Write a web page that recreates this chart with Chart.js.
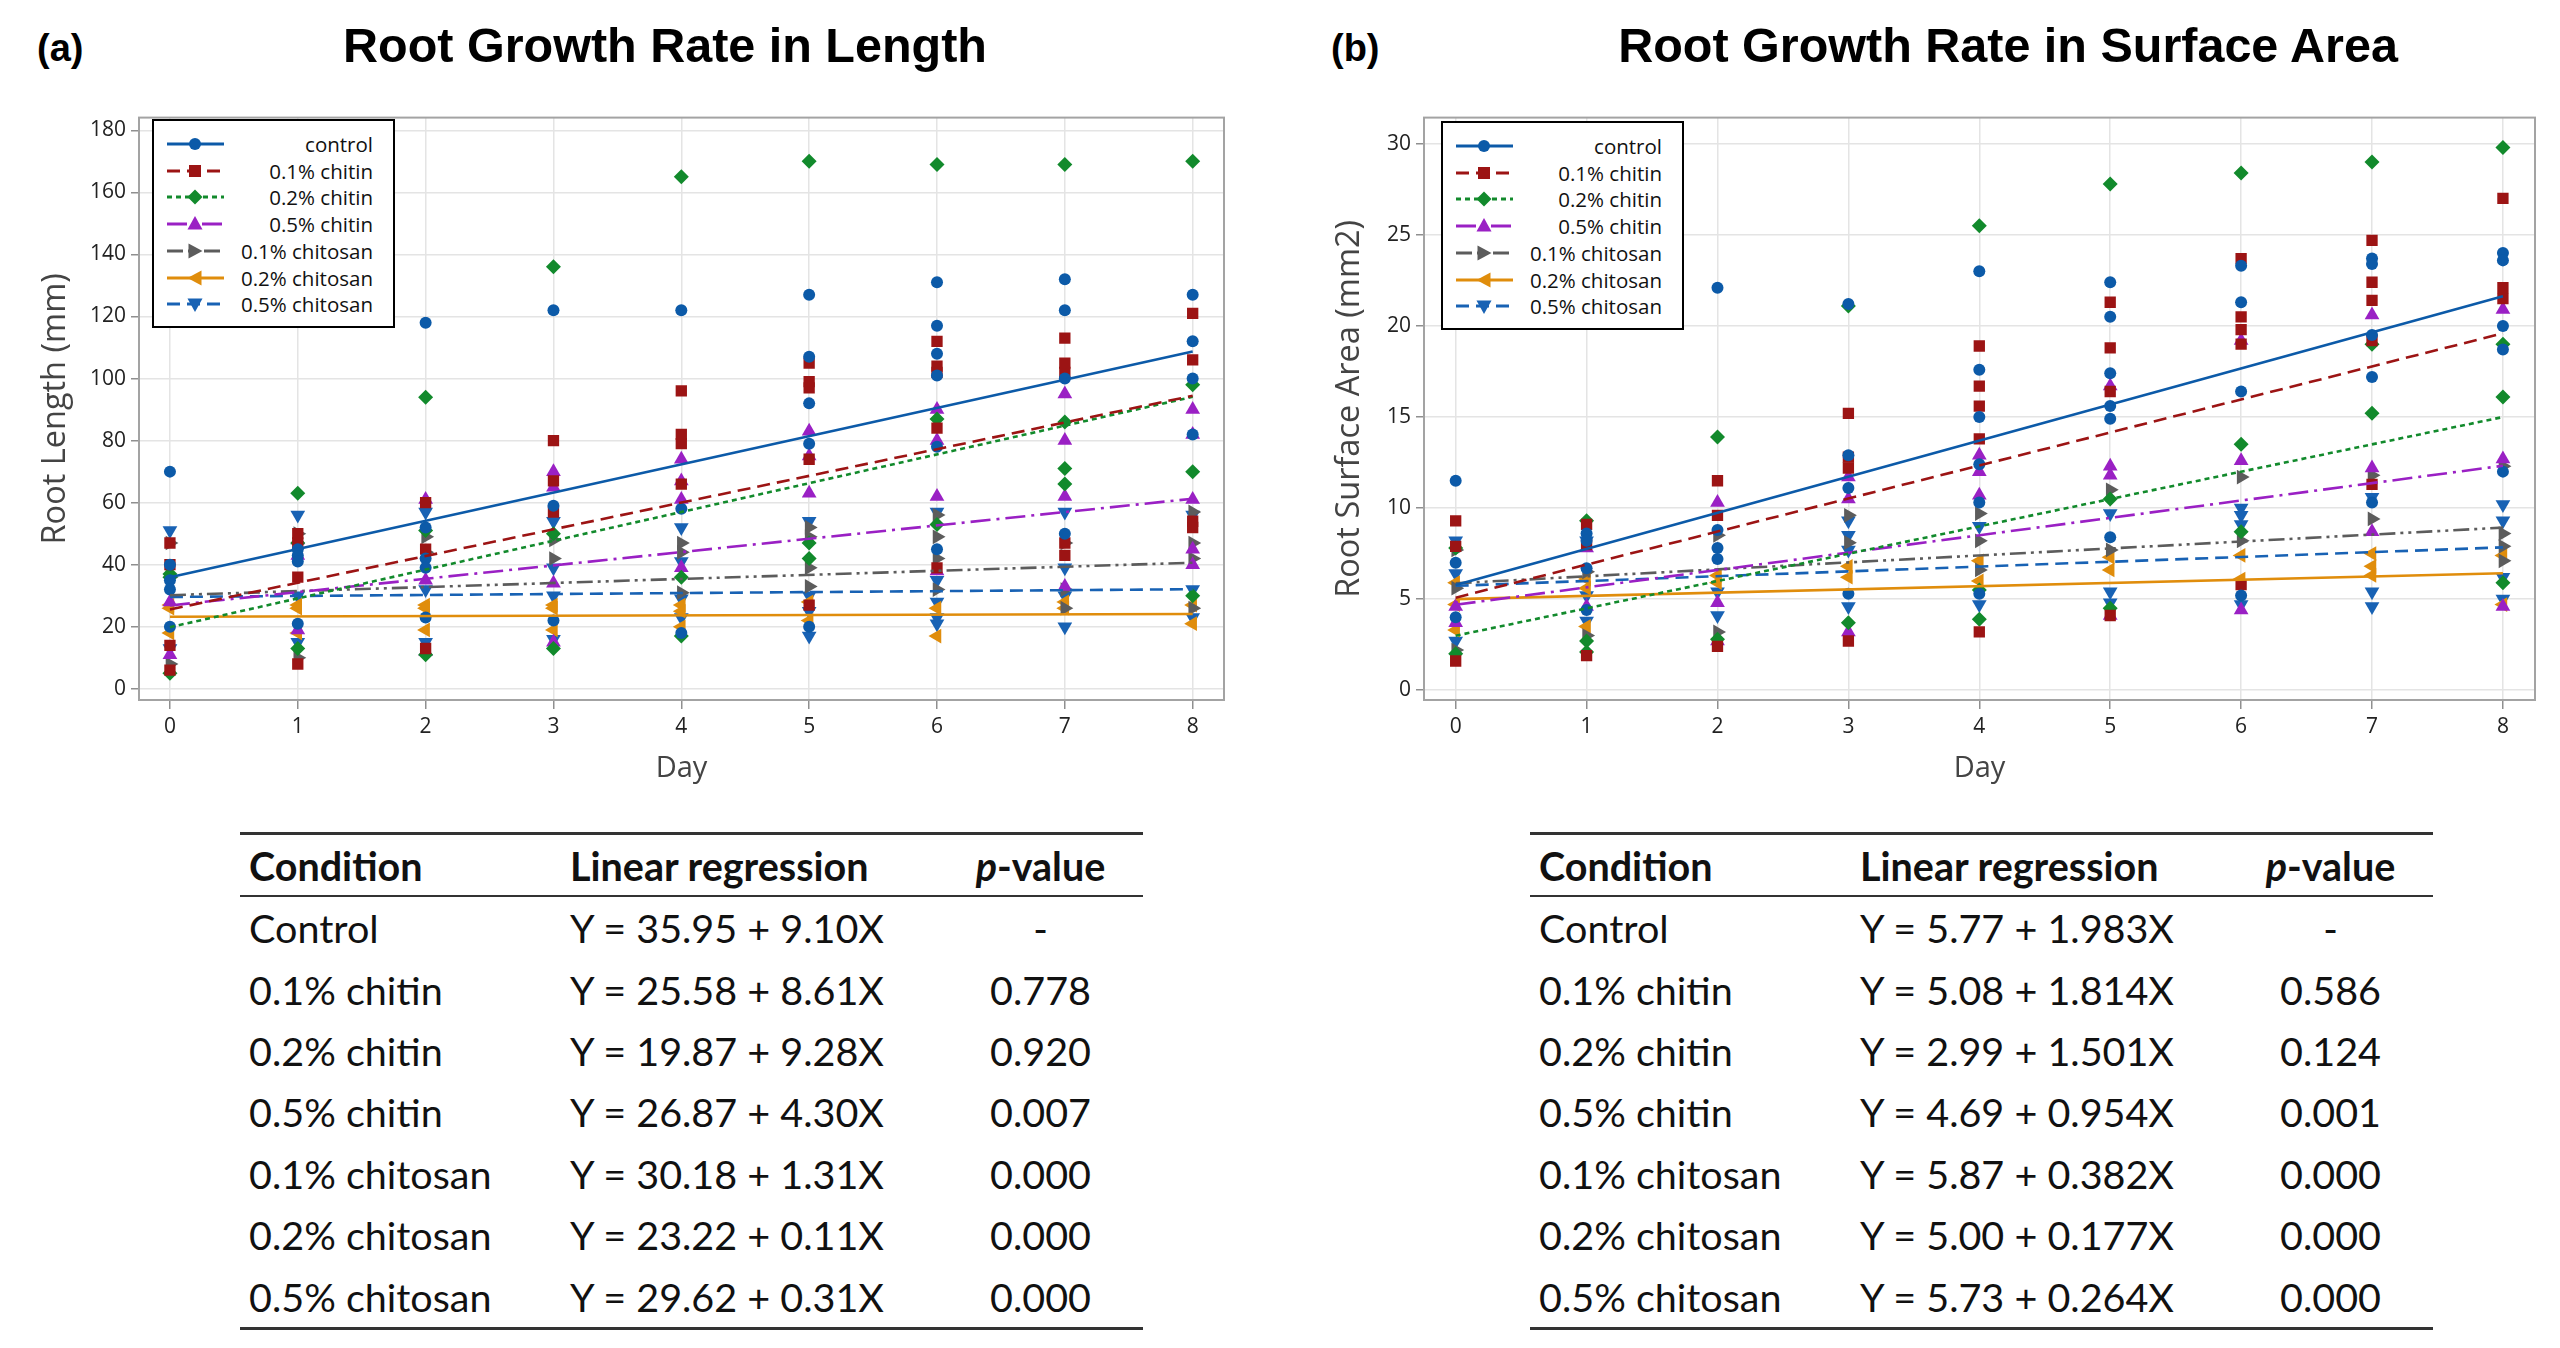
<!DOCTYPE html>
<html>
<head>
<meta charset="utf-8">
<script src="https://cdn.jsdelivr.net/npm/chart.js@4.4.1/dist/chart.umd.min.js"></script>
<style>
    body { margin: 0; width: 2560px; height: 1348px; background: #fff; position: relative; overflow: hidden; }
    .label { position: absolute; font: bold 38px 'Liberation Sans', Arial, sans-serif; line-height: 38px; color: #000; }
    .title { position: absolute; font: bold 48.5px 'Liberation Sans', Arial, sans-serif; line-height: 48px; color: #000; white-space: nowrap; transform: translateX(-50%); }
    canvas { position: absolute; top: 100px; }
    .legend { position: absolute; width: 239px; height: 205px; border: 2px solid #000; background: #fff; }
    .legend .row { position: absolute; left: 12px; right: 20px; height: 24px; display: flex; align-items: center; }
    .legend .row span { flex: 1; text-align: right; font: 20.5px 'Open Sans', sans-serif; color: #111; white-space: nowrap; }
    table.reg { position: absolute; top: 832px; width: 903px; border-collapse: collapse; table-layout: fixed; font: 39.5px Lato, sans-serif; color: #111; }
    table.reg th { font-weight: bold; height: 60px; text-align: left; padding: 0 0 0 9px; border-top: 3px solid #333; border-bottom: 2.5px solid #333; }
    table.reg td { height: 61.4px; padding: 0 0 0 9px; white-space: nowrap; }
    table.reg tr:last-child td { border-bottom: 3px solid #333; }
    table.reg .p { text-align: center; padding: 0 22px 0 0; }
</style>
</head>
<body>
<div class="label" style="left:37px;top:29px">(a)</div>
<div class="title" style="left:665px;top:21px">Root Growth Rate in Length</div>
<canvas id="lenChart" width="1240" height="700" style="left:0"></canvas>
<div class="legend" id="lenLegend" style="left:152px;top:119px"></div>
<table class="reg" id="lenTable" style="left:240px"></table>

<div class="label" style="left:1331px;top:29px">(b)</div>
<div class="title" style="left:2008px;top:21px">Root Growth Rate in Surface Area</div>
<canvas id="areaChart" width="1280" height="700" style="left:1280px"></canvas>
<div class="legend" id="areaLegend" style="left:1441px;top:121px"></div>
<table class="reg" id="areaTable" style="left:1530px"></table>

<script>
const days = [0, 1, 2, 3, 4, 5, 6, 7, 8];
const seriesNames = ['control', '0.1% chitin', '0.2% chitin', '0.5% chitin', '0.1% chitosan', '0.2% chitosan', '0.5% chitosan'];
const tableNames = ['Control', '0.1% chitin', '0.2% chitin', '0.5% chitin', '0.1% chitosan', '0.2% chitosan', '0.5% chitosan'];
const lenTicks = [0, 20, 40, 60, 80, 100, 120, 140, 160, 180];
const areaTicks = [0, 5, 10, 15, 20, 25, 30];

// root length (mm), one list per day
const lenControl = [[70, 40, 35, 32, 20], [45, 43, 41, 21], [118, 52, 42, 39, 23], [122, 59, 22], [122, 58, 18], [127, 107, 92, 79, 20], [131, 117, 108, 101, 78, 45], [132, 122, 100, 50], [127, 112, 100, 82]];
const lenChitin01 = [[47, 40, 14, 6], [50, 47, 36, 8], [60, 45, 13], [80, 67, 57], [96, 82, 79, 66], [105, 99, 97, 74, 27], [112, 104, 102, 84, 39], [113, 105, 102, 47, 43], [121, 106, 54, 52]];
const lenChitin02 = [[37, 36, 5], [63, 47, 13], [94, 51, 11], [136, 50, 13], [165, 36, 17], [170, 47, 42], [169, 87, 53], [169, 86, 71, 66], [170, 98, 70, 30]];
const lenChitin05 = [[28, 11], [48, 43, 19], [61, 35, 12], [70, 65, 34, 15], [74, 67, 61, 39], [83, 75, 63], [90, 80, 62, 38], [95, 80, 62, 33], [90, 82, 61, 45, 40]];
const lenChitosan01 = [[47, 36, 8], [50, 10], [49, 44], [48, 42], [47, 44, 31], [52, 49, 39, 33], [56, 49, 42, 32], [47, 32, 26], [57, 47, 42, 26]];
const lenChitosan02 = [[27, 26, 18], [27, 26, 18], [27, 26, 19], [27, 26, 19], [27, 25, 20], [28, 22], [26, 17], [28, 26], [27, 21]];
const lenChitosan05 = [[51, 13], [56, 30, 15], [57, 32, 15], [54, 39, 30, 16], [52, 41, 29, 23], [54, 30, 25, 17], [57, 35, 28, 23, 21], [57, 39, 30, 20], [56, 32, 23]];

// root surface area (mm2), one list per day
const areaControl = [[11.5, 7.0, 4.0], [8.6, 8.2, 6.7, 4.4], [22.1, 8.8, 7.8, 7.2], [21.2, 12.9, 11.1, 5.3], [23.0, 17.6, 15.0, 12.4, 10.3, 5.3], [22.4, 20.5, 17.4, 15.6, 14.9, 8.4], [23.3, 21.3, 16.4, 5.2], [23.7, 23.4, 19.5, 17.2, 10.3], [24.0, 23.6, 20.0, 18.7, 12.0]];
const areaChitin01 = [[9.3, 7.9, 1.6], [9.1, 8.0, 1.9], [11.5, 9.6, 2.4], [15.2, 12.8, 12.2, 2.7], [18.9, 16.7, 15.6, 13.8, 3.2], [21.3, 18.8, 16.4, 4.1], [23.7, 20.5, 19.8, 19.0, 5.8], [24.7, 22.4, 21.4, 19.2, 11.3], [27.0, 22.1, 21.5]];
const areaChitin02 = [[7.8, 2.0], [9.3, 2.7, 2.1], [13.9, 2.8], [21.1, 3.7], [25.5, 5.5, 3.9], [27.8, 10.5, 4.5], [28.4, 13.5, 8.7], [29.0, 19.0, 15.2], [29.8, 19.0, 16.1, 5.9]];
const areaChitin05 = [[4.6, 3.7], [7.8, 4.6], [10.3, 4.8, 2.7], [11.7, 10.5, 3.2], [12.9, 12.0, 10.7], [16.7, 12.3, 11.8, 4.1], [19.2, 12.6, 4.4], [20.6, 12.2, 8.7], [20.9, 12.7, 4.6]];
const areaChitosan01 = [[7.7, 5.6, 2.2], [6.5, 3.0], [8.5, 3.2], [9.6, 8.1], [9.7, 8.2, 6.6], [11.0, 7.7], [11.7, 8.2], [11.8, 9.4], [12.3, 8.6, 7.9, 7.1]];
const areaChitosan02 = [[5.9, 4.7, 3.3], [6.1, 5.6, 3.5], [6.3, 5.9], [6.8, 6.2], [7.1, 6.0], [7.3, 6.6], [7.4, 6.1], [7.5, 6.8, 6.3], [7.4, 4.7]];
const areaChitosan05 = [[8.2, 6.4, 2.7], [8.2, 5.2, 3.8], [5.4, 4.1], [9.3, 8.5, 7.7, 4.6], [9.0, 4.7], [9.7, 5.4, 4.8], [10.0, 9.6, 9.1, 4.7], [10.6, 5.4, 4.6], [10.2, 9.3, 6.2, 5.0]];

// fitted lines from the tables
const lenIntercept = [35.95, 25.58, 19.87, 26.87, 30.18, 23.22, 29.62];
const lenSlope = [9.10, 8.61, 9.28, 4.30, 1.31, 0.11, 0.31];
const lenPValue = ['-', '0.778', '0.920', '0.007', '0.000', '0.000', '0.000'];
const areaIntercept = [5.77, 5.08, 2.99, 4.69, 5.87, 5.00, 5.73];
const areaSlope = [1.983, 1.814, 1.501, 0.954, 0.382, 0.177, 0.264];
const areaPValue = ['-', '0.586', '0.124', '0.001', '0.000', '0.000', '0.000'];

const styles = [
    { color: '#0c5aa8', dash: [], shape: 'circle', rot: 0, r: 6 },
    { color: '#9c1414', dash: [13, 7], shape: 'rect', rot: 0, r: 8 },
    { color: '#128a2c', dash: [5, 4], shape: 'rectRot', rot: 0, r: 7.5 },
    { color: '#9a20c4', dash: [20, 6, 3, 6], shape: 'triangle', rot: 0, r: 8.5 },
    { color: '#5c5c5c', dash: [16, 5, 3, 5, 3, 5], shape: 'triangle', rot: 90, r: 8.5 },
    { color: '#e08d0c', dash: [], shape: 'triangle', rot: 270, r: 8.5 },
    { color: '#1862b4', dash: [13, 7], shape: 'triangle', rot: 180, r: 8.5 }
];

const toPoints = perDay => days.flatMap((d, i) => perDay[i].map(v => ({ x: d, y: v })));

const framePlugin = {
    id: 'frame',
    beforeDatasetsDraw(chart) {
        const { ctx, chartArea: a } = chart;
        ctx.save();
        ctx.strokeStyle = '#a3a3a3';
        ctx.lineWidth = 2;
        ctx.strokeRect(a.left, a.top, a.right - a.left, a.bottom - a.top);
        ctx.restore();
    }
};

const tickFont = { family: "'Open Sans', sans-serif", size: 21 };
const xTitleFont = { family: "'Open Sans', sans-serif", size: 29 };
const yTitleFont = { family: "'Open Sans', sans-serif", size: 32.5 };

function makeChart(id, groups, intercepts, slopes, yTicks, yRange, yTitle, yWidth, yTitlePad, padRight) {
    const scatter = groups.map((g, i) => ({
        type: 'scatter',
        data: toPoints(g),
        backgroundColor: styles[i].color,
        borderColor: styles[i].color,
        borderWidth: 0,
        pointStyle: styles[i].shape,
        rotation: styles[i].rot,
        pointRadius: styles[i].r,
        order: 2
    }));
    const fits = intercepts.map((b, i) => ({
        type: 'line',
        data: [days[0], days[days.length - 1]].map(d => ({ x: d, y: b + slopes[i] * d })),
        borderColor: styles[i].color,
        borderDash: styles[i].dash,
        borderWidth: 2.6,
        pointRadius: 0,
        fill: false,
        order: 1
    }));
    return new Chart(document.getElementById(id), {
        data: { datasets: [...scatter, ...fits] },
        plugins: [framePlugin],
        options: {
            responsive: false, animation: false,
            layout: { padding: { top: 7, right: padRight, left: 0, bottom: 0 } },
            plugins: { legend: { display: false }, tooltip: { enabled: false } },
            scales: {
                x: {
                    type: 'linear', min: -0.242, max: 8.245,
                    afterBuildTicks: s => { s.ticks = days.map(v => ({ value: v })); },
                    afterFit: s => { s.height = 100; },
                    grid: { color: '#e4e4e4', lineWidth: 1.5, tickLength: 9, tickColor: '#8f8f8f' },
                    border: { display: false },
                    ticks: { font: tickFont, color: '#222', padding: 5 },
                    title: { display: true, text: 'Day', font: xTitleFont, color: '#444', padding: { top: 0, bottom: 14 } }
                },
                y: {
                    type: 'linear', min: yRange[0], max: yRange[1],
                    afterBuildTicks: s => { s.ticks = yTicks.map(v => ({ value: v })); },
                    afterFit: s => { s.width = yWidth; },
                    grid: { color: '#e4e4e4', lineWidth: 1.5, tickLength: 8, tickColor: '#8f8f8f' },
                    border: { display: false },
                    ticks: { font: tickFont, color: '#222', padding: 5 },
                    title: { display: true, text: yTitle, font: yTitleFont, color: '#444', padding: { top: yTitlePad, bottom: 0 } }
                }
            }
        }
    });
}

const markerSvg = (s) => {
    const c = s.color;
    switch (s.shape) {
        case 'circle': return `<circle cx="29" cy="10" r="6" fill="${c}"/>`;
        case 'rect': return `<rect x="23" y="4" width="12" height="12" fill="${c}"/>`;
        case 'rectRot': return `<polygon points="29,2.5 36.5,10 29,17.5 21.5,10" fill="${c}"/>`;
    }
    const tri = { 0: '29,2 36.5,15.5 21.5,15.5', 90: '22.5,2.5 36.5,10 22.5,17.5', 270: '35.5,2.5 21.5,10 35.5,17.5', 180: '21.5,4.5 36.5,4.5 29,18' };
    return `<polygon points="${tri[s.rot]}" fill="${c}"/>`;
};

function buildLegend(id) {
    document.getElementById(id).innerHTML = seriesNames.map((name, i) => {
        const s = styles[i];
        return `<div class="row" style="top:${11 + i * 26.7}px">
            <svg width="62" height="20"><line x1="1" y1="10" x2="58" y2="10" stroke="${s.color}" stroke-width="2.8" stroke-dasharray="${s.dash.join(' ')}"/>${markerSvg(s)}</svg>
            <span>${name}</span>
        </div>`;
    }).join('');
}

function buildTable(id, intercepts, slopes, slopeDecimals, pValues) {
    const rows = tableNames.map((name, i) => `<tr>
        <td>${name}</td>
        <td>Y = ${intercepts[i].toFixed(2)} + ${slopes[i].toFixed(slopeDecimals)}X</td>
        <td class="p">${pValues[i]}</td>
    </tr>`).join('');
    document.getElementById(id).innerHTML = `
        <colgroup><col style="width:321px"><col style="width:399px"><col style="width:183px"></colgroup>
        <tr><th>Condition</th><th>Linear regression</th><th class="p"><i>p</i>-value</th></tr>
        ${rows}`;
}

makeChart('lenChart',
    [lenControl, lenChitin01, lenChitin02, lenChitin05, lenChitosan01, lenChitosan02, lenChitosan05],
    lenIntercept, lenSlope, lenTicks, [-3.6, 184.1], 'Root Length (mm)', 139, 36, 16);
makeChart('areaChart',
    [areaControl, areaChitin01, areaChitin02, areaChitin05, areaChitosan01, areaChitosan02, areaChitosan05],
    areaIntercept, areaSlope, areaTicks, [-0.54, 31.44], 'Root Surface Area (mm2)', 144, 50, 25);

buildLegend('lenLegend');
buildLegend('areaLegend');
buildTable('lenTable', lenIntercept, lenSlope, 2, lenPValue);
buildTable('areaTable', areaIntercept, areaSlope, 3, areaPValue);
</script>
</body>
</html>
